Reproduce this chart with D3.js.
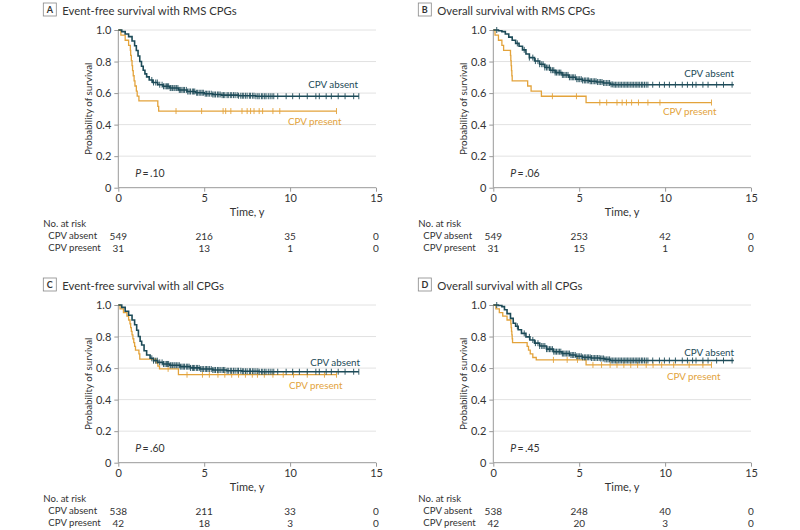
<!DOCTYPE html>
<html>
<head>
<meta charset="utf-8">
<script src="https://cdn.jsdelivr.net/npm/d3@7"></script>
<style>
  body { margin: 0; background: #fff; }
  svg text { font-family: Lato, "Open Sans", sans-serif; fill: #333; }
</style>
</head>
<body>
<div id="chart"></div>
<script>
// Kaplan-Meier steps [time (y), survival]
const efsRmsAbsent = [[0,1],[0.2,0.99],[0.4,0.975],[0.6,0.958],[0.8,0.93],[0.95,0.9],[1.05,0.87],[1.15,0.835],[1.25,0.8],[1.35,0.77],[1.45,0.745],[1.55,0.722],[1.65,0.703],[1.8,0.683],[2.0,0.667],[2.3,0.653],[2.6,0.643],[3.0,0.632],[3.5,0.62],[4.0,0.61],[4.5,0.602],[5.0,0.596],[5.5,0.591],[6.0,0.587],[7.0,0.583],[8.0,0.58],[14.0,0.58]];
const efsRmsPresent = [[0,1],[0.15,0.968],[0.4,0.935],[0.6,0.903],[0.7,0.871],[0.72,0.839],[0.76,0.806],[0.8,0.774],[0.83,0.742],[0.87,0.71],[0.92,0.677],[0.97,0.645],[1.05,0.613],[1.1,0.581],[1.2,0.55],[2.3,0.516],[2.35,0.486],[12.7,0.486]];
const osRmsAbsent = [[0,1],[0.3,0.995],[0.5,0.99],[0.7,0.975],[0.9,0.955],[1.1,0.935],[1.3,0.915],[1.5,0.897],[1.7,0.874],[1.9,0.848],[2.1,0.825],[2.4,0.803],[2.7,0.783],[3.0,0.762],[3.3,0.745],[3.6,0.73],[4.0,0.715],[4.4,0.7],[4.8,0.688],[5.2,0.68],[5.6,0.675],[6.0,0.67],[6.4,0.664],[6.8,0.655],[7.0,0.653],[14.0,0.653]];
const osRmsPresent = [[0,1],[0.1,0.968],[0.3,0.935],[0.5,0.903],[0.6,0.871],[1.0,0.839],[1.02,0.806],[1.04,0.774],[1.06,0.742],[1.08,0.71],[1.1,0.677],[2.0,0.645],[2.2,0.613],[2.8,0.58],[5.4,0.54],[12.7,0.54]];
const efsAllAbsent = [[0,1],[0.2,0.985],[0.4,0.96],[0.6,0.935],[0.8,0.905],[0.95,0.875],[1.07,0.84],[1.17,0.8],[1.27,0.77],[1.36,0.746],[1.5,0.71],[1.65,0.683],[1.85,0.662],[2.05,0.647],[2.3,0.636],[2.6,0.626],[3.0,0.618],[3.6,0.609],[4.2,0.601],[4.75,0.594],[5.5,0.588],[6.3,0.583],[7.2,0.58],[8.2,0.577],[14.0,0.577]];
const efsAllPresent = [[0,1],[0.1,0.976],[0.3,0.952],[0.5,0.929],[0.6,0.905],[0.68,0.881],[0.72,0.857],[0.76,0.833],[0.8,0.81],[0.85,0.786],[0.9,0.762],[0.95,0.738],[1.0,0.714],[1.2,0.69],[1.25,0.657],[2.2,0.633],[2.3,0.612],[2.4,0.595],[3.5,0.558],[12.7,0.558]];
const osAllAbsent = [[0,1],[0.3,0.997],[0.5,0.99],[0.65,0.97],[0.8,0.945],[1.0,0.915],[1.16,0.884],[1.3,0.865],[1.45,0.843],[1.64,0.82],[1.9,0.798],[2.13,0.778],[2.4,0.758],[2.7,0.74],[3.1,0.72],[3.5,0.704],[4.0,0.692],[4.45,0.683],[4.8,0.675],[5.2,0.668],[5.7,0.664],[6.2,0.661],[6.5,0.655],[6.8,0.648],[14.0,0.648]];
const osAllPresent = [[0,1],[0.15,0.976],[0.35,0.952],[0.55,0.929],[0.8,0.905],[1.02,0.881],[1.04,0.857],[1.06,0.833],[1.08,0.81],[1.1,0.786],[1.12,0.762],[1.97,0.738],[2.05,0.714],[2.15,0.69],[2.3,0.667],[2.5,0.652],[5.4,0.62],[12.7,0.62]];

// censoring times (tick marks)
const censorEfsAbsent = [1.95,2.05,2.18,2.27,2.41,2.55,2.63,2.72,2.8,2.86,2.93,3.02,3.07,3.15,3.24,3.3,3.38,3.47,3.55,3.61,3.7,3.78,3.85,3.96,4.04,4.12,4.2,4.31,4.38,4.45,4.56,4.62,4.71,4.8,4.88,4.95,5.06,5.13,5.22,5.3,5.41,5.5,5.58,5.66,5.77,5.85,5.93,6.04,6.12,6.2,6.33,6.4,6.52,6.6,6.71,6.8,6.92,7.0,7.13,7.22,7.3,7.41,7.5,7.63,7.7,7.82,7.9,8.01,8.12,8.2,8.33,8.41,8.52,8.6,8.73,8.84,8.95,9.05,9.28,9.77,10.15,10.54,11.0,11.5,11.7,12.1,12.4,12.8,13.2,13.7,14.0];
const censorOsAbsent = [0.2,1.4,1.8,2.1,2.3,2.45,2.6,2.7,2.82,2.9,3.0,3.1,3.18,3.27,3.35,3.44,3.52,3.6,3.68,3.77,3.85,3.93,4.02,4.1,4.18,4.27,4.35,4.43,4.52,4.6,4.68,4.77,4.86,4.94,5.03,5.12,5.2,5.3,5.38,5.47,5.55,5.64,5.72,5.81,5.9,5.98,6.07,6.16,6.25,6.33,6.42,6.5,6.6,6.68,6.77,6.86,6.95,7.03,7.12,7.2,7.3,7.38,7.47,7.56,7.65,7.73,7.82,7.9,8.0,8.08,8.17,8.26,8.35,8.43,8.52,8.62,8.7,8.8,8.9,9.0,9.28,9.67,9.96,10.25,10.6,11.0,11.3,11.6,11.8,12.2,12.5,13.0,13.4,13.9];
const censorEfsRmsPresent = [3.36,4.85,6.1,6.25,6.55,7.2,7.5,7.7,7.9,8.2,8.4,9.0,9.4,12.7];
const censorOsRmsPresent = [3.44,4.84,6.2,6.6,7.2,7.5,7.75,8.05,8.45,9.0,9.7,12.7];
const censorEfsAllPresent = [2.9,4.0,4.9,5.3,5.8,6.2,6.6,7.0,7.4,7.8,8.1,8.5,9.0,9.6,10.2,11.0,12.0,12.7];
const censorOsAllPresent = [3.5,4.3,4.9,5.8,6.3,6.8,7.2,7.6,8.0,8.4,8.9,9.3,9.8,10.5,11.4,12.2,12.7];

const riskTimes = [0, 5, 10, 15];
const riskEfsRms = { absent: [549, 216, 35, 0], present: [31, 13, 1, 0] };
const riskOsRms = { absent: [549, 253, 42, 0], present: [31, 15, 1, 0] };
const riskEfsAll = { absent: [538, 211, 33, 0], present: [42, 18, 3, 0] };
const riskOsAll = { absent: [538, 248, 40, 0], present: [42, 20, 3, 0] };

const xTicks = [0, 5, 10, 15];
const yTicks = [0, 0.2, 0.4, 0.6, 0.8, 1.0];

const absentColor = "#1d4b58";
const presentColor = "#e3a33b";

const panels = [
  { letter: "A", title: "Event-free survival with RMS CPGs", left: 118.3, top: 30, p: ".10",
    absent: efsRmsAbsent, present: efsRmsPresent, cAbsent: censorEfsAbsent, cPresent: censorEfsRmsPresent,
    risk: riskEfsRms, absentLbl: [358, 84], presentLbl: [288, 121] },
  { letter: "B", title: "Overall survival with RMS CPGs", left: 493.3, top: 30, p: ".06",
    absent: osRmsAbsent, present: osRmsPresent, cAbsent: censorOsAbsent, cPresent: censorOsRmsPresent,
    risk: riskOsRms, absentLbl: [734, 73], presentLbl: [663, 111] },
  { letter: "C", title: "Event-free survival with all CPGs", left: 118.3, top: 305, p: ".60",
    absent: efsAllAbsent, present: efsAllPresent, cAbsent: censorEfsAbsent, cPresent: censorEfsAllPresent,
    risk: riskEfsAll, absentLbl: [360, 362], presentLbl: [289, 385] },
  { letter: "D", title: "Overall survival with all CPGs", left: 493.3, top: 305, p: ".45",
    absent: osAllAbsent, present: osAllPresent, cAbsent: censorOsAbsent, cPresent: censorOsAllPresent,
    risk: riskOsAll, absentLbl: [734, 352], presentLbl: [667, 376] }
];

const width = 257.7, height = 157.7;

const svg = d3.select("#chart").append("svg")
  .attr("width", 800)
  .attr("height", 530);

// survival value at time t on a step curve
const survAt = (steps, t) => {
  const i = d3.bisector(d => d[0]).right(steps, t) - 1;
  return steps[Math.max(0, i)][1];
};

panels.forEach(pn => {
  const g = svg.append("g").attr("transform", `translate(${pn.left},${pn.top})`);
  const x = d3.scaleLinear().domain([0, 15]).range([0, width]);
  const y = d3.scaleLinear().domain([0, 1]).range([height, 0]);

  // badge + title
  g.append("rect")
    .attr("x", -75).attr("y", -27)
    .attr("width", 13).attr("height", 13)
    .attr("fill", "#fff").attr("stroke", "#888").attr("stroke-width", 0.8);
  g.append("text")
    .attr("x", -68.5).attr("y", -20.5)
    .attr("text-anchor", "middle").attr("dominant-baseline", "central")
    .attr("font-size", "9px").attr("font-weight", "bold")
    .text(pn.letter);
  g.append("text")
    .attr("x", -56).attr("y", -20)
    .attr("dominant-baseline", "central")
    .attr("font-size", "11.3px")
    .text(pn.title);

  // gridlines
  g.append("g").selectAll("line")
    .data(yTicks.filter(d => d > 0))
    .join("line")
    .attr("x1", 0).attr("x2", x(15))
    .attr("y1", d => y(d)).attr("y2", d => y(d))
    .attr("stroke", "#e2e2e2").attr("stroke-width", 1);

  const yAxis = g.append("g")
    .call(d3.axisLeft(y).tickValues(yTicks).tickSize(4).tickPadding(3)
      .tickFormat(d => d === 0 ? "0" : d3.format(".1f")(d)));
  const xAxis = g.append("g")
    .attr("transform", `translate(0,${height})`)
    .call(d3.axisBottom(x).tickValues(xTicks).tickSize(4).tickPadding(3));
  [yAxis, xAxis].forEach(a => {
    a.select(".domain").attr("stroke", "#999");
    a.selectAll(".tick line").attr("stroke", "#999");
    a.selectAll(".tick text").attr("font-size", "11px").attr("fill", "#333")
      .attr("font-family", null);
  });
  xAxis.select(".domain").attr("d", `M0,0H${width}`);
  yAxis.select(".domain").attr("d", `M0,0V${height}`);

  g.append("text")
    .attr("transform", `translate(-30,${height / 2}) rotate(-90)`)
    .attr("text-anchor", "middle").attr("dominant-baseline", "central")
    .attr("font-size", "9.8px")
    .text("Probability of survival");
  g.append("text")
    .attr("x", x(7.5)).attr("y", height + 24)
    .attr("text-anchor", "middle").attr("dominant-baseline", "central")
    .attr("font-size", "11px")
    .text("Time, y");

  const line = d3.line()
    .x(d => x(d[0]))
    .y(d => y(d[1]))
    .curve(d3.curveStepAfter);

  const drawCurve = (steps, censor, color, w) => {
    g.append("path")
      .datum(steps)
      .attr("fill", "none")
      .attr("stroke", color)
      .attr("stroke-width", w)
      .attr("d", line);
    g.append("g").selectAll("line")
      .data(censor)
      .join("line")
      .attr("x1", d => x(d)).attr("x2", d => x(d))
      .attr("y1", d => y(survAt(steps, d)) - 3)
      .attr("y2", d => y(survAt(steps, d)) + 3)
      .attr("stroke", color).attr("stroke-width", 0.9);
  };
  drawCurve(pn.present, pn.cPresent, presentColor, 1.3);
  drawCurve(pn.absent, pn.cAbsent, absentColor, 1.6);

  g.append("text")
    .attr("x", pn.absentLbl[0] - pn.left).attr("y", pn.absentLbl[1] - pn.top)
    .attr("text-anchor", "end").attr("dominant-baseline", "central")
    .attr("font-size", "9.8px").style("fill", absentColor)
    .text("CPV absent");
  g.append("text")
    .attr("x", pn.presentLbl[0] - pn.left).attr("y", pn.presentLbl[1] - pn.top)
    .attr("dominant-baseline", "central")
    .attr("font-size", "9.8px").style("fill", presentColor)
    .text("CPV present");

  const pt = g.append("text")
    .attr("x", 17).attr("y", height - 15)
    .attr("dominant-baseline", "central")
    .attr("font-size", "10.5px");
  pt.append("tspan").attr("font-style", "italic").text("P");
  pt.append("tspan").text("\u2009=\u2009" + pn.p);

  // number at risk table
  g.append("text")
    .attr("x", -75).attr("y", height + 36)
    .attr("dominant-baseline", "central").attr("font-size", "9.6px")
    .text("No. at risk");
  [["CPV absent", pn.risk.absent, 48], ["CPV present", pn.risk.present, 60]].forEach(([lbl, vals, dy]) => {
    g.append("text")
      .attr("x", -70).attr("y", height + dy)
      .attr("dominant-baseline", "central").attr("font-size", "9.6px")
      .text(lbl);
    g.append("g").selectAll("text")
      .data(vals)
      .join("text")
      .attr("x", (d, i) => x(riskTimes[i]))
      .attr("y", height + dy)
      .attr("text-anchor", "middle").attr("dominant-baseline", "central")
      .attr("font-size", "10px")
      .text(d => d);
  });
});
</script>
</body>
</html>
